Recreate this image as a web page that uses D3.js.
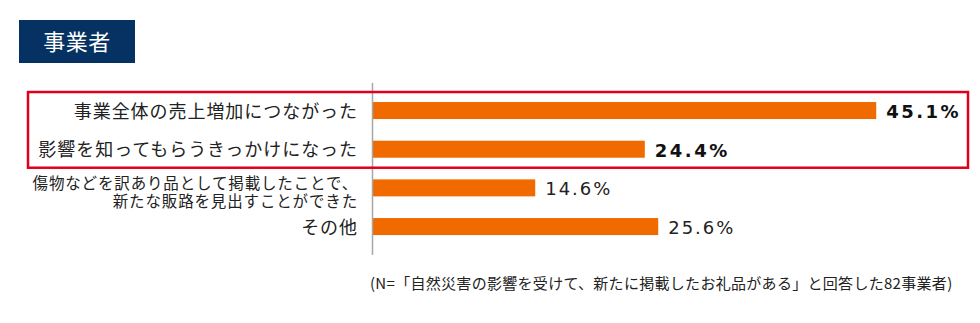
<!DOCTYPE html>
<html lang="ja">
<head>
<meta charset="utf-8">
<script src="https://cdn.jsdelivr.net/npm/d3@7"></script>
<style>
  html, body { margin: 0; padding: 0; background: #fff; }
  svg { display: block; }
  .jp { font-family: "Noto Sans CJK JP", "Noto Sans", sans-serif; }
  .num { font-family: "DejaVu Sans", Verdana, sans-serif; }
</style>
</head>
<body>
<svg id="chart" width="980" height="323"></svg>
<script>
// Survey answers (respondent share, %)
const categories = [
  ["事業全体の売上増加につながった"],
  ["影響を知ってもらうきっかけになった"],
  ["傷物などを訳あり品として掲載したことで、", "新たな販路を見出すことができた"],
  ["その他"]
];
const values = [45.1, 24.4, 14.6, 25.6];
const highlighted = [true, true, false, false];
const title = "事業者";
const note = "(N=「自然災害の影響を受けて、新たに掲載したお礼品がある」と回答した82事業者)";

const svg = d3.select("#chart");
const rows = categories.map((c, i) => ({ key: i, lines: c, value: values[i], bold: highlighted[i] }));

const x = d3.scaleLinear().domain([0, 50]).range([372, 931]);
const y = d3.scaleBand()
  .domain(rows.map(d => d.key))
  .range([91.2, 245.9])
  .paddingInner(0.56)
  .paddingOuter(0.28);

// Title tab
svg.append("rect")
  .attr("x", 19).attr("y", 20).attr("width", 116).attr("height", 43)
  .attr("fill", "#063263");
svg.append("text").attr("class", "jp")
  .attr("x", 77).attr("y", 42).attr("dy", "0.36em")
  .attr("text-anchor", "middle")
  .attr("font-size", 22).attr("fill", "#fff")
  .attr("letter-spacing", 0.5)
  .text(title);

// Bars
svg.append("g").selectAll("rect")
  .data(rows).join("rect")
  .attr("x", x(0))
  .attr("y", d => y(d.key))
  .attr("width", d => x(d.value) - x(0))
  .attr("height", y.bandwidth())
  .attr("fill", "#f06a00");

// Category axis line
svg.append("line")
  .attr("x1", x(0) + 0.5).attr("x2", x(0) + 0.5)
  .attr("y1", 83).attr("y2", 255)
  .attr("stroke", "#a6a6a6").attr("stroke-width", 1.5);

// Category labels (wrapped labels become one text with stacked tspans)
const lab = svg.append("g").attr("class", "jp").attr("fill", "#222");
rows.forEach(d => {
  const cy = y(d.key) + y.bandwidth() / 2;
  const multi = d.lines.length > 1;
  const lh = 18;
  const t = lab.append("text")
    .attr("text-anchor", "end")
    .attr("font-size", multi ? 15.5 : 18)
    .attr("letter-spacing", multi ? 0.85 : 0.95);
  d.lines.forEach((line, j) => {
    t.append("tspan")
      .attr("x", 358)
      .attr("y", cy + (multi ? 4.5 + (j - 0.5) * lh : 0.5))
      .attr("dy", "0.36em")
      .text(line);
  });
});

// Value labels
svg.append("g").attr("class", "num").selectAll("text")
  .data(rows).join("text")
  .attr("x", d => x(d.value) + 10)
  .attr("y", d => y(d.key) + y.bandwidth() / 2 + 1)
  .attr("dy", "0.36em")
  .attr("font-size", 18)
  .attr("font-weight", d => d.bold ? "bold" : "normal")
  .attr("letter-spacing", d => d.bold ? 2.5 : 2)
  .attr("fill", d => d.bold ? "#111" : "#222")
  .text(d => d.value.toFixed(1) + "%");

// Highlight frame around the leading answers
const hi = rows.filter(d => d.bold);
const frameTop = y(hi[0].key) - 10;
const frameBottom = y(hi[hi.length - 1].key) + y.bandwidth() + 10;
svg.append("rect")
  .attr("x", 28).attr("y", frameTop)
  .attr("width", 968 - 28).attr("height", frameBottom - frameTop)
  .attr("fill", "none")
  .attr("stroke", "#e0001b").attr("stroke-width", 2.5);

// Footnote
svg.append("text").attr("class", "jp")
  .attr("x", 370).attr("y", 284).attr("dy", "0.36em")
  .attr("font-size", 15).attr("fill", "#222")
  .attr("letter-spacing", 0.3)
  .text(note);
</script>
</body>
</html>
